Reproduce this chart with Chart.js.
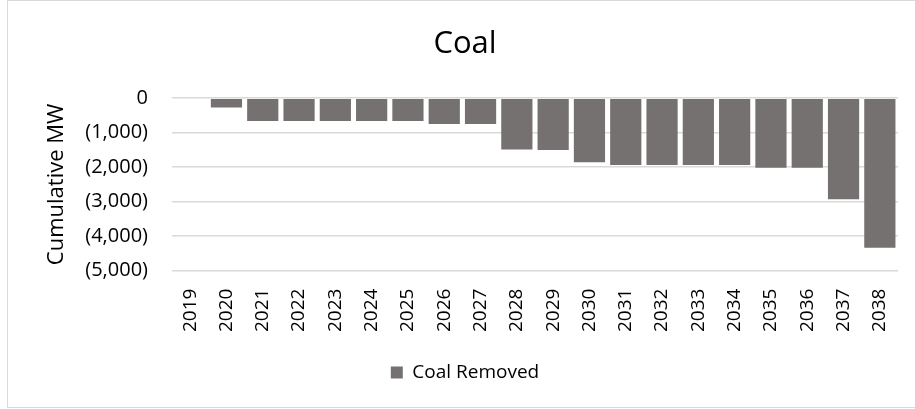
<!DOCTYPE html>
<html>
<head>
<meta charset="utf-8">
<script src="https://cdn.jsdelivr.net/npm/chart.js@4.4.0/dist/chart.umd.min.js"></script>
<style>
  html, body { margin: 0; padding: 0; background: #fff; }
  #frame { position: absolute; left: 7px; top: 0px; width: 920px; height: 406px; border: 1px solid #d9d9d9; }
  #wrap { position: absolute; left: 0; top: 0; width: 915px; height: 409px; }
</style>
</head>
<body>
<div id="frame"></div>
<div id="wrap"><canvas id="chart1"></canvas></div>
<script>
// years on the x axis
const years = ['2019', '2020', '2021', '2022', '2023', '2024', '2025', '2026', '2027', '2028',
               '2029', '2030', '2031', '2032', '2033', '2034', '2035', '2036', '2037', '2038'];
// cumulative coal removed, MW (negative = removed)
const coalRemoved = [0, -270, -660, -660, -660, -660, -660, -745, -745, -1490,
                     -1500, -1860, -1935, -1935, -1935, -1935, -2015, -2015, -2935, -4340];
const yTicks = [0, -1000, -2000, -3000, -4000, -5000];

const fontFam = "'Open Sans', 'Noto Sans', sans-serif";

function fmt(v) {
    const s = Math.abs(v).toLocaleString('en-US');
    return v < 0 ? '(' + s + ')' : s;
}

const ctx = document.getElementById('chart1').getContext('2d');
const myChart = new Chart(ctx, {
    type: 'bar',
    data: {
        labels: years,
        datasets: [{
            label: 'Coal Removed',
            data: coalRemoved,
            backgroundColor: '#767171',
            borderColor: '#767171',
            borderWidth: 0,
            categoryPercentage: 0.86,
            barPercentage: 1.0
        }]
    },
    options: {
        responsive: true,
        maintainAspectRatio: false,
        animation: false,
        layout: { padding: { left: 32, right: 17, top: 6, bottom: 17 } },
        plugins: {
            title: {
                display: true,
                text: 'Coal',
                color: '#000',
                font: { family: fontFam, size: 31, weight: 'normal' },
                padding: { top: 20, bottom: 35 }
            },
            legend: {
                position: 'bottom',
                labels: {
                    color: '#000',
                    font: { family: fontFam, size: 19 },
                    boxWidth: 12,
                    boxHeight: 12,
                    padding: 21
                }
            },
            tooltip: { enabled: false }
        },
        scales: {
            x: {
                grid: { display: false },
                border: { display: false },
                ticks: {
                    color: '#000',
                    font: { family: fontFam, size: 19 },
                    minRotation: 90,
                    maxRotation: 90,
                    padding: 10
                }
            },
            y: {
                min: -5000,
                max: 0,
                afterBuildTicks: function(axis) {
                    axis.ticks = yTicks.map(v => ({ value: v }));
                },
                afterFit: function(axis) {
                    axis.width = 140;
                },
                grid: { color: '#d9d9d9', lineWidth: 1.5, drawTicks: false },
                border: { display: false },
                ticks: {
                    color: '#000',
                    font: { family: fontFam, size: 20 },
                    padding: 24,
                    callback: function(v) { return fmt(v); }
                },
                title: {
                    display: true,
                    text: 'Cumulative MW',
                    color: '#000',
                    font: { family: fontFam, size: 22 },
                    padding: 12
                }
            }
        }
    }
});
</script>
</body>
</html>
